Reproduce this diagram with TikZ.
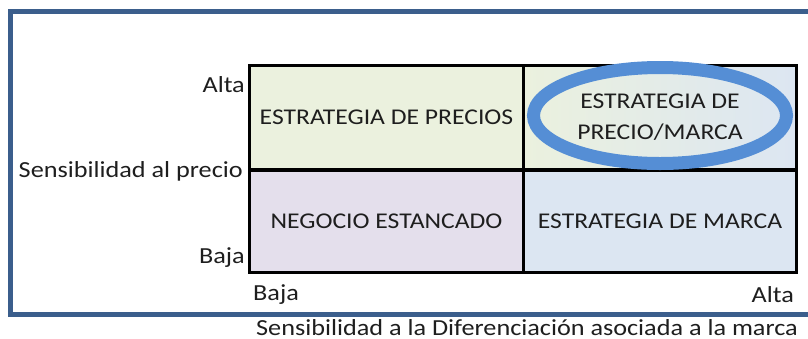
\documentclass[tikz,border=0pt]{standalone}
\usepackage{fontspec}
\setmainfont{Carlito}[FakeStretch=1.14]
\usepackage{tikz}
\usetikzlibrary{shapes.geometric, positioning}
\definecolor{framecolor}{RGB}{59,94,140}
\definecolor{ringcolor}{RGB}{85,142,213}
\definecolor{preciocolor}{RGB}{235,241,222}
\definecolor{estancolor}{RGB}{228,223,236}
\definecolor{marcacolor}{RGB}{220,230,242}
\definecolor{txtcolor}{RGB}{30,30,30}

\begin{document}
\begin{tikzpicture}[
    x=1pt, y=-1pt,
    cell/.style={draw, line width=3pt, fill=#1, minimum width=274pt, minimum height=104pt, inner sep=0pt, align=center, text=txtcolor, font=\fontsize{22.5}{31}\selectfont},
    axislabel/.style={inner sep=0pt, text=txtcolor, font=\fontsize{23}{28}\selectfont},
    ring/.style={draw=ringcolor, line width=13pt, ellipse, minimum width=253pt, minimum height=96pt, inner sep=0pt}
]
    \clip (0,0) rectangle (808,338);
    % Frame
    \draw[framecolor, line width=5pt] (10.5,11.5) rectangle (830,314.5);

    % Quadrants
    \node[cell=preciocolor] (precios) at (386.5,117.5) {ESTRATEGIA DE PRECIOS};
    \node[cell=marcacolor, left color=preciocolor, right color=marcacolor, minimum width=273pt] (preciomarca) at (660,117.5) {ESTRATEGIA DE\\PRECIO/MARCA};
    \node[cell=estancolor, minimum height=102pt] (estancado) at (386.5,221) {NEGOCIO ESTANCADO};
    \node[cell=marcacolor, minimum width=273pt, minimum height=102pt] (marca) at (660,221) {ESTRATEGIA DE MARCA};

    % Highlight
    \node[ring] (focus) at (660,115.5) {};

    % Vertical axis
    \node[axislabel, anchor=east] (altaY) at (245,85) {Alta};
    \node[axislabel, anchor=east] (sensprecio) at (243,171) {Sensibilidad al precio};
    \node[axislabel, anchor=east] (bajaY) at (245,258) {Baja};

    % Horizontal axis
    \node[axislabel, anchor=west] (bajaX) at (253,295) {Baja};
    \node[axislabel, anchor=east] (altaX) at (794,295) {Alta};
    \node[axislabel, anchor=base west] (sensdif) at (256,335) {Sensibilidad a la Diferenciación asociada a la marca};
\end{tikzpicture}
\end{document}
